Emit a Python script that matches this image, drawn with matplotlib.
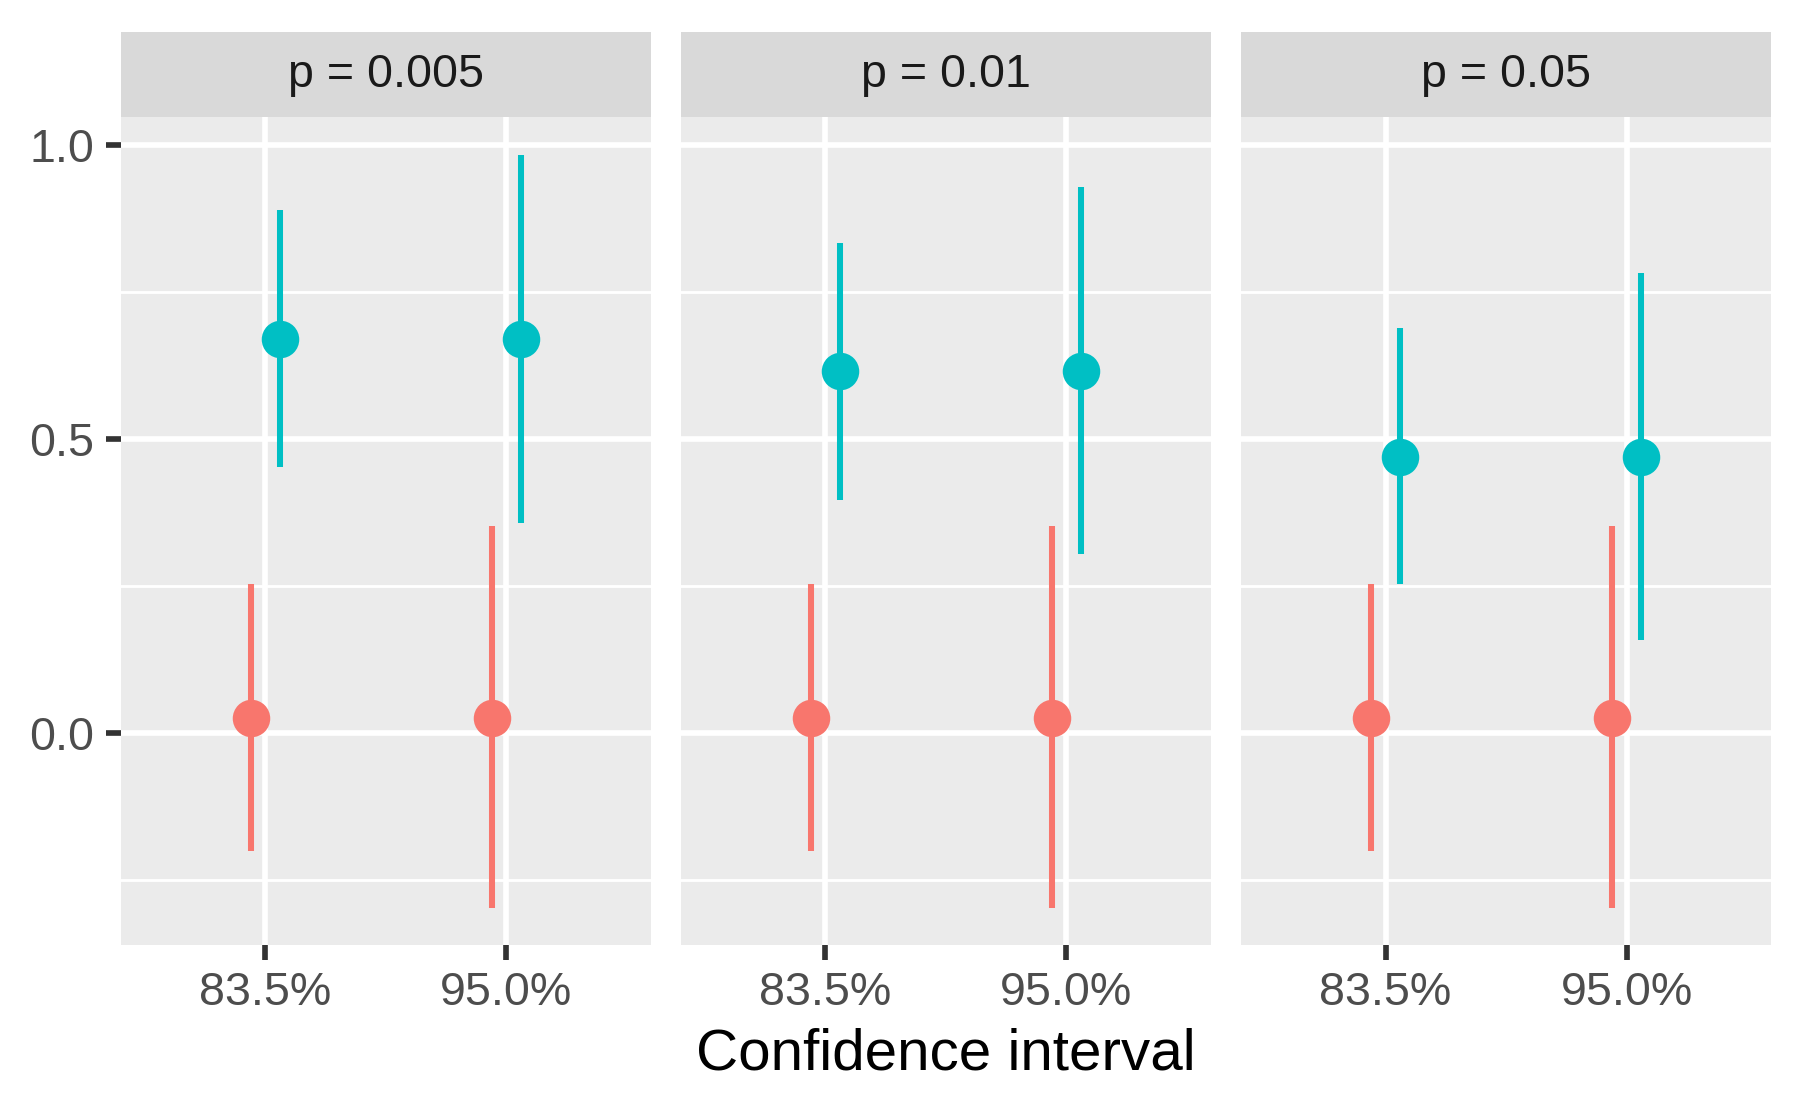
import matplotlib
matplotlib.use('Agg')
import matplotlib.pyplot as plt

plt.rcParams['font.family'] = ['Liberation Sans', 'DejaVu Sans']

levels = ['83.5%', '95.0%']
panels = ['p = 0.005', 'p = 0.01', 'p = 0.05']

# red group (estimate near zero), same in every panel
red_est = [[0.025, 0.025], [0.025, 0.025], [0.025, 0.025]]
red_lo = [[-0.201, -0.299], [-0.201, -0.299], [-0.201, -0.299]]
red_hi = [[0.252, 0.352], [0.252, 0.352], [0.252, 0.352]]

# cyan group
cyan_est = [[0.670, 0.670], [0.615, 0.615], [0.469, 0.469]]
cyan_lo = [[0.451, 0.357], [0.396, 0.303], [0.252, 0.158]]
cyan_hi = [[0.889, 0.982], [0.832, 0.928], [0.688, 0.781]]

RED = '#F8766D'
CYAN = '#00BFC4'
dodge = 0.06

fig = plt.figure(figsize=(6, 1112 / 300), dpi=300)

left = 0.067
width = 0.2946
gap = 0.0166
bottom = 0.1504
top = 0.8947
strip_top = 0.971

for i, name in enumerate(panels):
    x0 = left + i * (width + gap)
    ax = fig.add_axes([x0, bottom, width, top - bottom])
    ax.set_facecolor('#EBEBEB')
    for s in ax.spines.values():
        s.set_visible(False)

    xs = list(range(1, len(levels) + 1))
    for j, x in enumerate(xs):
        ax.vlines(x - dodge, red_lo[i][j], red_hi[i][j], color=RED, lw=1.45, zorder=3)
        ax.plot(x - dodge, red_est[i][j], 'o', color=RED, ms=9, mew=0, zorder=4)
        ax.vlines(x + dodge, cyan_lo[i][j], cyan_hi[i][j], color=CYAN, lw=1.45, zorder=3)
        ax.plot(x + dodge, cyan_est[i][j], 'o', color=CYAN, ms=9, mew=0, zorder=4)

    ax.set_xlim(0.4, 2.6)
    ax.set_ylim(-0.361, 1.047)
    ax.set_xticks(xs)
    ax.set_xticklabels(levels)
    ax.set_yticks([0.0, 0.5, 1.0])
    ax.set_yticks([-0.25, 0.25, 0.75], minor=True)
    ax.grid(True, which='major', color='white', lw=1.36, zorder=1)
    ax.grid(True, which='minor', axis='y', color='white', lw=0.68, zorder=1)
    ax.set_axisbelow(True)
    ax.tick_params(axis='both', which='major', length=3.5, width=1.36,
                   color='#333333', labelsize=11.2, labelcolor='#4D4D4D', pad=2.8)
    ax.tick_params(axis='both', which='minor', length=0)
    if i == 0:
        ax.set_yticklabels(['0.0', '0.5', '1.0'])
    else:
        ax.tick_params(axis='y', which='major', length=0, labelleft=False)

    sax = fig.add_axes([x0, top, width, strip_top - top])
    sax.set_facecolor('#D9D9D9')
    sax.set_xticks([])
    sax.set_yticks([])
    for s in sax.spines.values():
        s.set_visible(False)
    sax.text(0.5, 0.5, name, ha='center', va='center', fontsize=11.2,
             color='#1A1A1A', transform=sax.transAxes)

fig.text(left + (3 * width + 2 * gap) / 2, 0.052, 'Confidence interval',
         ha='center', va='center', fontsize=14, color='black')

fig.savefig('out.png', dpi=300)
